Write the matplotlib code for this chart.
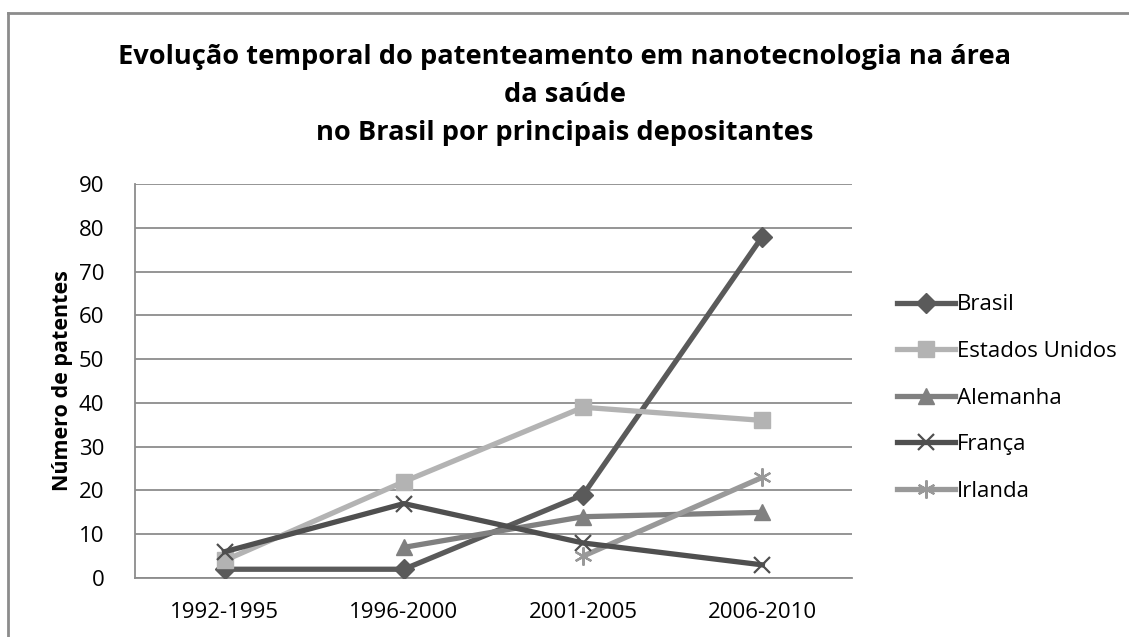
import numpy as np
import matplotlib.pyplot as plt
from matplotlib.lines import Line2D

# dados
periodos = ['1992-1995', '1996-2000', '2001-2005', '2006-2010']
brasil = [2, 2, 19, 78]
estados_unidos = [4, 22, 39, 36]
alemanha = [np.nan, 7, 14, 15]
franca = [6, 17, 8, 3]
irlanda = [np.nan, np.nan, 5, 23]

plt.rcParams['font.family'] = ['Open Sans', 'DejaVu Sans']

W, H = 1129, 637
fig = plt.figure(figsize=(W / 100, H / 100), dpi=100)
ax = fig.add_axes([135 / W, 1 - 578 / H, (852 - 135) / W, (578 - 184) / H])

x = np.arange(len(periodos))
lw = 3.8
ax.plot(x, brasil, color='#5a5a5a', lw=lw, marker='D', ms=10, label='Brasil', zorder=3)
ax.plot(x, estados_unidos, color='#b3b3b3', lw=lw, marker='s', ms=12, label='Estados Unidos', zorder=3)
ax.plot(x, alemanha, color='#808080', lw=lw, marker='^', ms=12, label='Alemanha', zorder=3)
ax.plot(x, franca, color='#4f4f4f', lw=lw, marker='x', ms=12, mew=1.6, label='França', zorder=4)
ax.plot(x, irlanda, color='#999999', lw=lw, marker=(6, 2, 0), ms=13, mew=1.6, label='Irlanda', zorder=3)

ax.set_xlim(-0.5, 3.5)
ax.set_ylim(0, 90)
ax.set_yticks(range(0, 91, 10))
ax.set_xticks(x)
ax.set_xticklabels(periodos)
ax.tick_params(axis='both', length=0, labelsize=16, colors='black')
ax.tick_params(axis='x', pad=17)
ax.tick_params(axis='y', pad=22)
ax.grid(axis='y', color='#8c8c8c', lw=1.3)
ax.set_axisbelow(True)
for s in ['top', 'right']:
    ax.spines[s].set_visible(False)
for s in ['left', 'bottom']:
    ax.spines[s].set_color('#8c8c8c')
    ax.spines[s].set_linewidth(1.3)

ax.set_ylabel('Número de patentes', fontsize=15.5, fontweight='bold', labelpad=4)

fig.text(0.5, 1 - 57 / H, 'Evolução temporal do patenteamento em nanotecnologia na área',
         ha='center', va='center', fontsize=19.6, fontweight='bold')
fig.text(0.5, 1 - 95 / H, 'da saúde', ha='center', va='center', fontsize=19.6, fontweight='bold')
fig.text(0.5, 1 - 133 / H, 'no Brasil por principais depositantes',
         ha='center', va='center', fontsize=19.6, fontweight='bold')

leg = fig.legend(loc='center left', bbox_to_anchor=(877 / W, 1 - 398 / H), frameon=False,
                 fontsize=16, handlelength=2.6, handletextpad=0.1, labelspacing=1.15)

# borda do grafico
fig.add_artist(Line2D([8 / W, 1], [1 - 13 / H, 1 - 13 / H], color='#8c8c8c', lw=2))
fig.add_artist(Line2D([8 / W, 8 / W], [0, 1 - 13 / H], color='#8c8c8c', lw=2))

fig.savefig('out.png', dpi=100)
